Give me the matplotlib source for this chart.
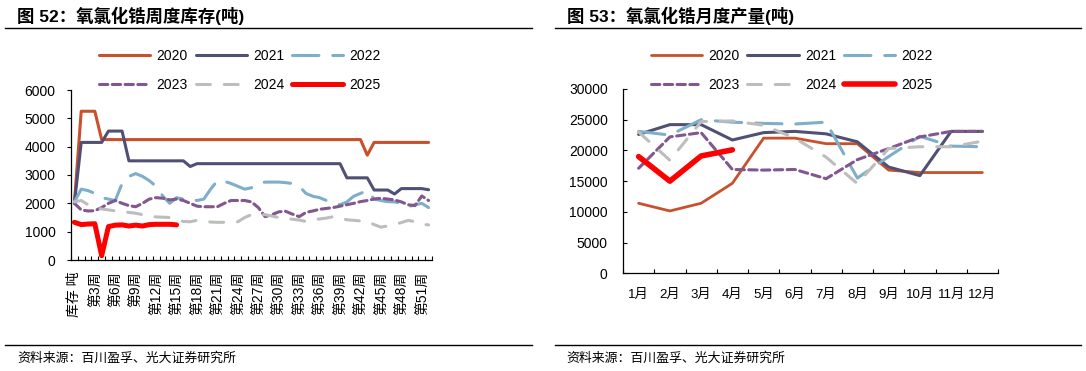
import matplotlib
matplotlib.use('Agg')
import matplotlib.pyplot as plt
from matplotlib.lines import Line2D
from matplotlib.ticker import FixedLocator

plt.rcParams['font.family'] = ['Liberation Sans', 'Noto Sans CJK SC']
plt.rcParams['lines.scale_dashes'] = False
plt.rcParams['axes.unicode_minus'] = False

years = ['2020', '2021', '2022', '2023', '2024', '2025']

# weekly stock (t), first column is the header cell "库存 吨"
week_labels = ['库存 吨'] + ['第%d周' % i for i in range(1, 53)]
stock_2020 = [2000, 5250, 5250, 5250, 4250, 4250, 4250, 4250, 4250, 4250,
              4250, 4250, 4250, 4250, 4250, 4250, 4250, 4250, 4250, 4250,
              4250, 4250, 4250, 4250, 4250, 4250, 4250, 4250, 4250, 4250,
              4250, 4250, 4250, 4250, 4250, 4250, 4250, 4250, 4250, 4250,
              4250, 4250, 4250, 3700, 4150, 4150, 4150, 4150, 4150, 4150,
              4150, 4150, 4150]
stock_2021 = [2000, 4150, 4150, 4150, 4150, 4550, 4550, 4550, 3500, 3500,
              3500, 3500, 3500, 3500, 3500, 3500, 3500, 3300, 3400, 3400,
              3400, 3400, 3400, 3400, 3400, 3400, 3400, 3400, 3400, 3400,
              3400, 3400, 3400, 3400, 3400, 3400, 3400, 3400, 3400, 3400,
              2900, 2900, 2900, 2900, 2470, 2470, 2470, 2330, 2520, 2520,
              2520, 2520, 2480]
stock_2022 = [2050, 2500, 2450, 2350, 2200, 2150, 2100, 2700, 2950, 3050,
              2950, 2800, 2600, 2250, 2000, 2200, 2150, 2150, 2100, 2150,
              2500, 2800, 2780, 2700, 2600, 2500, 2550, 2700, 2750, 2750,
              2750, 2730, 2700, 2600, 2350, 2250, 2200, 2100, 2000, 1950,
              2050, 2250, 2350, 2450, 2150, 2100, 2060, 2050, 2000, 1880,
              1950, 2000, 1850]
stock_2023 = [2000, 1770, 1730, 1740, 1850, 2000, 2100, 2000, 1920, 1880,
              2000, 2150, 2200, 2180, 2120, 2150, 2100, 2000, 1900, 1880,
              1880, 1880, 2000, 2100, 2100, 2100, 2050, 1850, 1530, 1600,
              1700, 1720, 1620, 1530, 1680, 1730, 1790, 1820, 1850, 1900,
              1950, 2000, 2060, 2100, 2150, 2180, 2150, 2120, 2050, 1950,
              1920, 2260, 2100]
stock_2024 = [2050, 2100, 1950, 1850, 1800, 1770, 1730, 1700, 1680, 1650,
              1600, 1550, 1520, 1510, 1500, 1420, 1360, 1350, 1400, 1380,
              1340, 1330, 1330, 1340, 1350, 1500, 1600, 1610, 1600, 1550,
              1500, 1470, 1440, 1410, 1360, 1400, 1450, 1480, 1530, 1480,
              1420, 1400, 1380, 1360, 1250, 1160, 1200, 1260, 1320, 1400,
              1350, 1260, 1240]
stock_2025 = [1330, 1250, 1270, 1280, 150, 1180, 1230, 1240, 1200, 1230,
              1200, 1250, 1260, 1260, 1260, 1240]

# monthly output (t)
months = ['1月', '2月', '3月', '4月', '5月', '6月', '7月', '8月', '9月', '10月', '11月', '12月']
prod_2020 = [11400, 10150, 11400, 14650, 22000, 22000, 21100, 21100, 16800, 16400, 16400, 16400]
prod_2021 = [22600, 24200, 24200, 21700, 22900, 23100, 22700, 21400, 17300, 15900, 23100, 23100]
prod_2022 = [23100, 22500, 25000, 24600, 24400, 24300, 24600, 15500, 19000, 22300, 20700, 20600]
prod_2023 = [17100, 22200, 22900, 16900, 16800, 16900, 15400, 18500, 20300, 22200, 23100, 23100]
prod_2024 = [23000, 18400, 24700, 24800, 24100, 22000, 18900, 14600, 20300, 20600, 20600, 21500]
prod_2025 = [19000, 15000, 19100, 20100]

colors = ['#C8502A', '#505074', '#7FAEC8', '#82568F', '#BDBDBD', '#FF0000']
dashes = [None, None, (19, 10), (6, 3.2), (10, 10), None]
caps = ['butt', 'butt', 'round', 'round', 'round', 'butt']

W, H = 1086, 371
fig = plt.figure(figsize=(W / 100, H / 100), dpi=100)


def fx(px):
    return px / W


def fy(py):
    return 1 - py / H


def draw_lines(ax, series, widths):
    for i, (yr, vals) in enumerate(zip(years, series)):
        kw = dict(color=colors[i], lw=widths[i], label=yr,
                  solid_capstyle='round', solid_joinstyle='round')
        if dashes[i] is not None:
            kw['dashes'] = dashes[i]
            kw['dash_capstyle'] = caps[i]
        ax.plot(range(len(vals)), vals, **kw)


def style_axes(ax):
    for s in ['top', 'right']:
        ax.spines[s].set_visible(False)
    for s in ['left', 'bottom']:
        ax.spines[s].set_color('#000000')
        ax.spines[s].set_linewidth(0.9)


def add_legend(ax, x0):
    # legend fills column by column, so reorder to get rows 2020-2022 / 2023-2025
    h, l = ax.get_legend_handles_labels()
    order = [0, 3, 1, 4, 2, 5]
    ax.legend([h[i] for i in order], [l[i] for i in order],
              ncol=3, loc='upper left', bbox_to_anchor=(fx(x0), fy(49)),
              bbox_transform=fig.transFigure, frameon=False, fontsize=10,
              handlelength=3.7, handletextpad=0.45, columnspacing=0.55,
              labelspacing=1.1, borderpad=0, borderaxespad=0)


def add_frame(x0, x1, title_x, title):
    fig.text(fx(title_x), fy(16), title, fontsize=12.5, fontweight='bold',
             ha='left', va='center', family=['Liberation Sans', 'Noto Sans CJK SC'])
    fig.add_artist(Line2D([fx(x0), fx(x1)], [fy(28), fy(28)], color='#000000', lw=1.0))
    fig.add_artist(Line2D([fx(x0), fx(x1)], [fy(345), fy(345)], color='#000000', lw=1.0))
    fig.text(fx(title_x), fy(359), '资料来源：百川盈孚、光大证券研究所', fontsize=9.3,
             ha='left', va='center')


# ---- left: weekly stock
ax1 = fig.add_axes([fx(71), fy(260), fx(432 - 71), (260 - 90) / H])
draw_lines(ax1, [stock_2020, stock_2021, stock_2022, stock_2023, stock_2024, stock_2025],
           [2.2, 2.2, 2.2, 2.2, 2.2, 3.6])
ax1.set_xlim(-0.5, len(week_labels) - 0.5)
ax1.set_ylim(0, 6000)
ax1.set_yticks(range(0, 6001, 1000))
ax1.set_xticks(range(0, len(week_labels), 3))
ax1.set_xticklabels(week_labels[::3], rotation=90, fontsize=10)
ax1.xaxis.set_minor_locator(FixedLocator([k - 0.5 for k in range(len(week_labels) + 1)]))
ax1.tick_params(axis='x', which='major', length=0, pad=8.5)
ax1.tick_params(axis='x', which='minor', direction='in', length=3, width=0.8)
ax1.tick_params(axis='y', direction='out', length=3, width=0.8, labelsize=10, pad=8)
style_axes(ax1)
add_legend(ax1, 99)
add_frame(5, 532, 17, '图 52：氧氯化锆周度库存(吨)')

# ---- right: monthly output
ax2 = fig.add_axes([fx(623), fy(273.3), fx(998 - 623), (273.3 - 89) / H])
draw_lines(ax2, [prod_2020, prod_2021, prod_2022, prod_2023, prod_2024, prod_2025],
           [2.0, 2.2, 2.2, 2.2, 2.2, 4.0])
ax2.set_xlim(-0.5, 11.5)
ax2.set_ylim(0, 30000)
ax2.set_yticks(range(0, 30001, 5000))
ax2.set_xticks(range(12))
ax2.set_xticklabels(months, fontsize=9.5)
ax2.xaxis.set_minor_locator(FixedLocator([k - 0.5 for k in range(13)]))
ax2.tick_params(axis='x', which='major', length=0, pad=11)
ax2.tick_params(axis='x', which='minor', direction='in', length=3, width=0.8)
ax2.tick_params(axis='y', direction='in', length=3, width=0.8, labelsize=10, pad=11)
style_axes(ax2)
add_legend(ax2, 650.6)
add_frame(555, 1081, 566.6, '图 53：氧氯化锆月度产量(吨)')

fig.savefig('out.png', dpi=100)
